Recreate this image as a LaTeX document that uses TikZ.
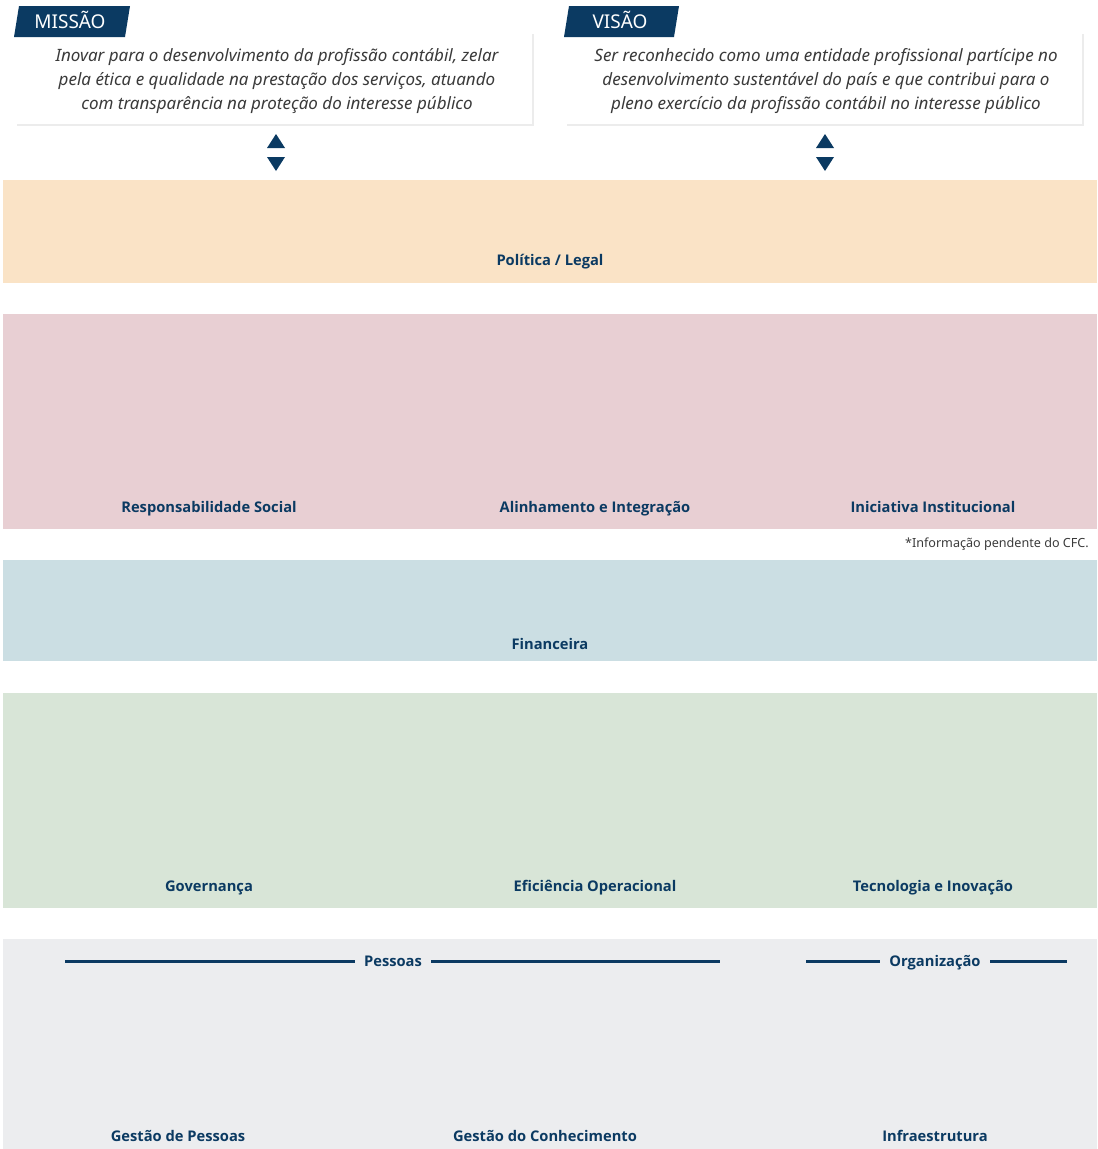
\documentclass[tikz,border=0pt]{standalone}
\usepackage{fontspec}
\setmainfont{Noto Sans}
\newfontfamily\labelfont{Open Sans}
\usetikzlibrary{shadows}
\definecolor{navy}{HTML}{0B3A62}
\definecolor{textgray}{HTML}{3A3A3A}
\definecolor{legalband}{HTML}{FAE3C6}
\definecolor{socialband}{HTML}{E8CFD3}
\definecolor{financeband}{HTML}{CBDEE3}
\definecolor{processband}{HTML}{D8E5D7}
\definecolor{baseband}{HTML}{ECEDEF}
\tikzset{
  bandlabel/.style={font=\labelfont\bfseries\fontsize{14.7}{17}\selectfont, text=navy, anchor=base},
  taglabel/.style={font=\fontsize{19}{20}\selectfont, text=white, anchor=base},
  statement/.style={font=\itshape\fontsize{17}{24}\selectfont, text=textgray, align=center},
  rulebar/.style={draw=navy, line width=3pt},
  cardbox/.style={fill=white, drop shadow={opacity=0.15, shadow xshift=2pt, shadow yshift=-2pt}},
}
\begin{document}
\begin{tikzpicture}[x=1pt,y=-1pt]
		%%%%% START %%%%%
		\useasboundingbox (0, 0) rectangle (1098, 1149);
		
		% missao / visao cards
		\draw[cardbox, draw=none] (15, 32) rectangle (532, 124);
		\fill[navy] (19, 6) -- (130, 6) -- (125, 37) -- (14, 37) -- cycle;
		\node[taglabel] (missao) at (70, 28) {MISSÃO};
		\node[statement] (missaotxt) at (277, 81) {Inovar para o desenvolvimento da profissão contábil, zelar\\pela ética e qualidade na prestação dos serviços, atuando\\com transparência na proteção do interesse público};
		
		\draw[cardbox, draw=none] (565, 32) rectangle (1082, 124);
		\fill[navy] (569, 6) -- (679, 6) -- (674, 37) -- (564, 37) -- cycle;
		\node[taglabel] (visao) at (620, 28) {VISÃO};
		\node[statement] (visaotxt) at (826, 81) {Ser reconhecido como uma entidade profissional partícipe no\\desenvolvimento sustentável do país e que contribui para o\\pleno exercício da profissão contábil no interesse público};
		
		\fill[navy] (276, 134) -- (285, 148) -- (267, 148) -- cycle;
		\fill[navy] (267, 157) -- (285, 157) -- (276, 171) -- cycle;
		\fill[navy] (825, 134) -- (834, 148) -- (816, 148) -- cycle;
		\fill[navy] (816, 157) -- (834, 157) -- (825, 171) -- cycle;
		
		% bands
		\fill[legalband] (3, 180) rectangle (1097, 283);
		\node[bandlabel] (legal) at (550, 265) {Política / Legal};
		
		\fill[socialband] (3, 314) rectangle (1097, 529);
		\node[bandlabel] (social) at (209, 512) {Responsabilidade Social};
		\node[bandlabel] (alinhamento) at (595, 512) {Alinhamento e Integração};
		\node[bandlabel] (iniciativa) at (933, 512) {Iniciativa Institucional};
		\node[font=\fontsize{12.6}{15}\selectfont, text=textgray, anchor=base east, inner sep=0pt] (nota) at (1089, 547) {*Informação pendente do CFC.};
		
		\fill[financeband] (3, 560) rectangle (1097, 661);
		\node[bandlabel] (financeira) at (550, 649) {Financeira};
		
		\fill[processband] (3, 693) rectangle (1097, 908);
		\node[bandlabel] (governanca) at (209, 891) {Governança};
		\node[bandlabel] (eficiencia) at (595, 891) {Eficiência Operacional};
		\node[bandlabel] (tecnologia) at (933, 891) {Tecnologia e Inovação};
		
		\fill[baseband] (3, 939) rectangle (1097, 1149);
		\node[bandlabel] (pessoas) at (393, 966) {Pessoas};
		\node[bandlabel] (organizacao) at (935, 966) {Organização};
		\coordinate (pessoasL) at (65, 961);
		\coordinate (pessoasR) at (720, 961);
		\coordinate (orgL) at (806, 961);
		\coordinate (orgR) at (1067, 961);
		\draw[rulebar, shorten >=6pt] (pessoasL) -- (pessoasL -| pessoas.west);
		\draw[rulebar, shorten <=6pt] (pessoas.east |- pessoasR) -- (pessoasR);
		\draw[rulebar, shorten >=6pt] (orgL) -- (orgL -| organizacao.west);
		\draw[rulebar, shorten <=6pt] (organizacao.east |- orgR) -- (orgR);
		\node[bandlabel] (gpessoas) at (178, 1141) {Gestão de Pessoas};
		\node[bandlabel] (gconhecimento) at (545, 1141) {Gestão do Conhecimento};
		\node[bandlabel] (infra) at (935, 1141) {Infraestrutura};
		
		%%%%% END %%%%%
\end{tikzpicture}
\end{document}
